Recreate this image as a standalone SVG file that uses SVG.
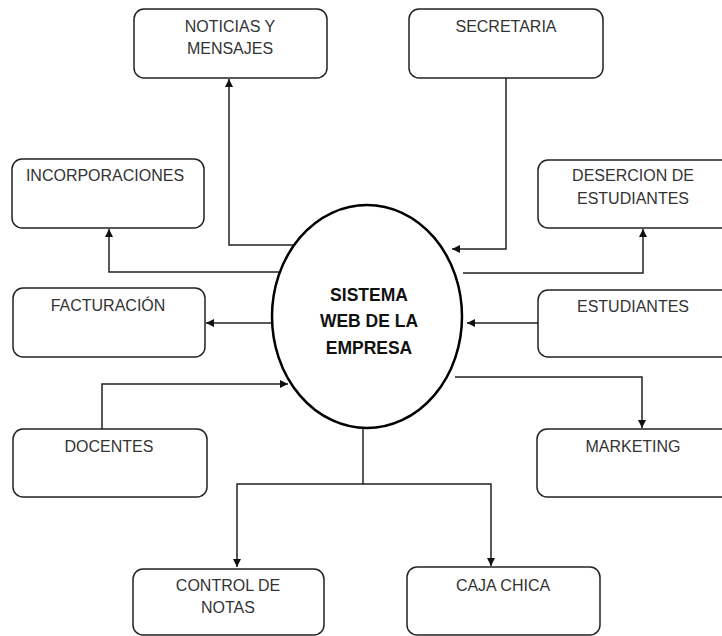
<svg xmlns="http://www.w3.org/2000/svg" width="722" height="636" viewBox="0 0 722 636">
<style>
.box{fill:#fff;stroke:#222;stroke-width:1.5}
.lbl{font-family:"Liberation Sans",Arial,sans-serif;font-size:16px;fill:#333;text-anchor:middle}
.ctr{font-family:"Liberation Sans",Arial,sans-serif;font-size:17.5px;font-weight:bold;fill:#111;text-anchor:middle}
.con{fill:none;stroke:#222;stroke-width:1.5}
</style>
<defs>
<marker id="ah" viewBox="0 0 10 10" refX="10" refY="5" markerWidth="8" markerHeight="8" markerUnits="userSpaceOnUse" orient="auto">
<path d="M0,0 L10,5 L0,10 z" fill="#111"/>
</marker>
</defs>
<rect width="722" height="636" fill="#fff"/>
<g id="connectors">
<path class="con" d="M293,245 H229 V79" marker-end="url(#ah)"/>
<path class="con" d="M506,78 V249 H452" marker-end="url(#ah)"/>
<path class="con" d="M279,272 H109 V229" marker-end="url(#ah)"/>
<path class="con" d="M463,273 H643 V229" marker-end="url(#ah)"/>
<path class="con" d="M271,323 H206" marker-end="url(#ah)"/>
<path class="con" d="M538,323 H467" marker-end="url(#ah)"/>
<path class="con" d="M102,429 V384 H288" marker-end="url(#ah)"/>
<path class="con" d="M455,377 H642 V428" marker-end="url(#ah)"/>
<path class="con" d="M363,428 V484 H237 V567"  marker-end="url(#ah)"/>
<path class="con" d="M363,484 H491 V566" marker-end="url(#ah)"/>
</g>
<g id="center">
<ellipse cx="367" cy="316.5" rx="95" ry="111.5" fill="#fff" stroke="#000" stroke-width="2.5"/>
<text class="ctr" x="369" y="301">SISTEMA</text>
<text class="ctr" x="369" y="327">WEB DE LA</text>
<text class="ctr" x="369" y="354">EMPRESA</text>
</g>
<g id="noticias">
<rect class="box" x="134" y="9" width="193" height="69" rx="10"/>
<text class="lbl" x="230" y="32">NOTICIAS Y</text>
<text class="lbl" x="230" y="54">MENSAJES</text>
</g>
<g id="secretaria">
<rect class="box" x="409" y="9" width="194" height="69" rx="10"/>
<text class="lbl" x="506" y="32">SECRETARIA</text>
</g>
<g id="incorporaciones">
<rect class="box" x="12" y="159" width="192" height="69" rx="10"/>
<text class="lbl" x="105" y="181">INCORPORACIONES</text>
</g>
<g id="desercion">
<rect class="box" x="538" y="160" width="194" height="68" rx="10"/>
<text class="lbl" x="633" y="181">DESERCION DE</text>
<text class="lbl" x="633" y="204">ESTUDIANTES</text>
</g>
<g id="facturacion">
<rect class="box" x="13" y="288" width="192" height="69" rx="10"/>
<text class="lbl" x="108" y="311">FACTURACIÓN</text>
</g>
<g id="estudiantes">
<rect class="box" x="538" y="290" width="194" height="67" rx="10"/>
<text class="lbl" x="633" y="312">ESTUDIANTES</text>
</g>
<g id="docentes">
<rect class="box" x="13" y="429" width="194" height="68" rx="10"/>
<text class="lbl" x="109" y="452">DOCENTES</text>
</g>
<g id="marketing">
<rect class="box" x="537" y="429" width="195" height="68" rx="10"/>
<text class="lbl" x="633" y="452">MARKETING</text>
</g>
<g id="control">
<rect class="box" x="133" y="569" width="191" height="66" rx="10"/>
<text class="lbl" x="228" y="591">CONTROL DE</text>
<text class="lbl" x="228" y="613">NOTAS</text>
</g>
<g id="caja">
<rect class="box" x="407" y="567" width="193" height="68" rx="10"/>
<text class="lbl" x="503" y="591">CAJA CHICA</text>
</g>
</svg>
